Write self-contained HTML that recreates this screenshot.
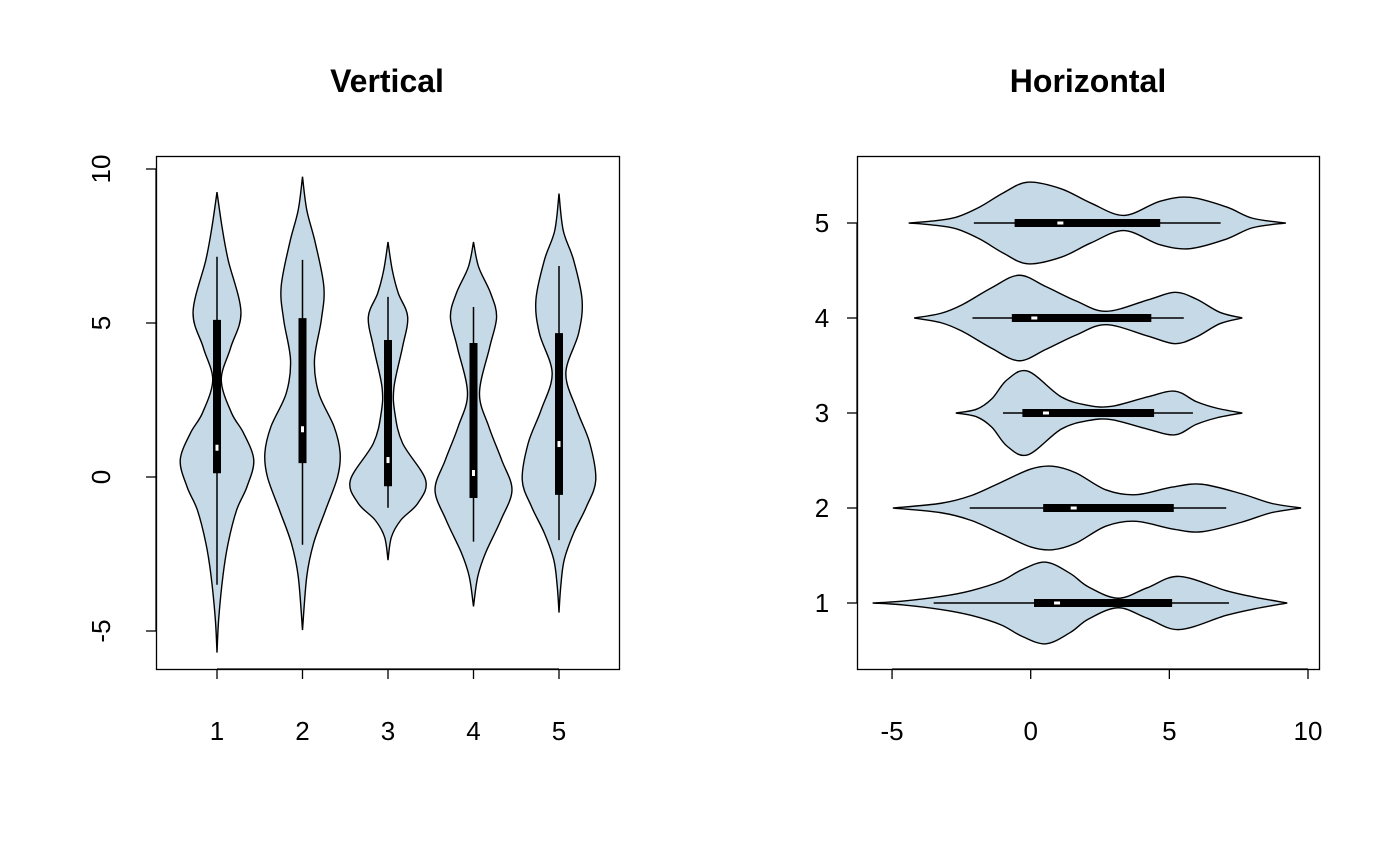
<!DOCTYPE html>
<html><head><meta charset="utf-8"><style>
html,body{margin:0;padding:0;background:#fff;}
svg{display:block;font-family:"Liberation Sans",Arial,sans-serif;}
</style></head><body>
<svg id="chart" width="1400" height="866" viewBox="0 0 1400 866" xmlns="http://www.w3.org/2000/svg">
<rect width="1400" height="866" fill="#fff"/>
<text x="387" y="92" text-anchor="middle" font-size="32" font-weight="bold">Vertical</text>
<text x="1088" y="92" text-anchor="middle" font-size="32" font-weight="bold">Horizontal</text>
<rect x="156.5" y="156.5" width="463" height="513" fill="none" stroke="#000" stroke-width="1.3"/>
<rect x="857.5" y="156.5" width="462" height="513" fill="none" stroke="#000" stroke-width="1.3"/>
<g id="vplot"></g>
<g id="hplot"></g>
</svg>
<script>
// values for each violin: data values and half-widths (category units)
const categories = [1,2,3,4,5];
const profVals = [
 [9.25,8.1,7.05,5.36,4.2,3.15,2.08,1.43,0.55,-0.32,-1.07,-2.15,-3.2,-4.6,-5.7],
 [9.75,8.67,7.6,6.17,5.1,3.8,2.72,1.63,0.78,0,-1.07,-2.15,-3.23,-4.97],
 [7.63,6.72,5.97,5.2,4.22,2.92,2.08,1.1,-0.1,-0.85,-1.4,-1.95,-2.7],
 [7.63,6.82,5.97,5.2,4.22,2.72,1.63,0.55,-0.42,-1.4,-2.47,-3.23,-4.2],
 [9.2,8.0,7.05,5.75,4.67,3.37,2.17,1.1,-0.1,-0.97,-1.83,-2.7,-3.57,-4.4]
];
const profHalf = [
 [0,0.06,0.13,0.28,0.16,0.05,0.17,0.31,0.43,0.35,0.23,0.13,0.07,0.02,0],
 [0,0.05,0.15,0.25,0.22,0.14,0.19,0.37,0.44,0.41,0.27,0.13,0.05,0],
 [0,0.05,0.12,0.23,0.17,0.07,0.08,0.17,0.44,0.35,0.15,0.04,0],
 [0,0.06,0.2,0.27,0.19,0.07,0.18,0.33,0.45,0.32,0.14,0.05,0],
 [0,0.05,0.17,0.27,0.23,0.08,0.21,0.36,0.43,0.32,0.17,0.06,0.02,0]
];
const q1 = [0.12,0.45,-0.3,-0.68,-0.58];
const q3 = [5.1,5.16,4.45,4.35,4.67];
const medians = [0.95,1.55,0.55,0.13,1.07];
const whiskLo = [-3.5,-2.2,-1.0,-2.1,-2.05];
const whiskHi = [7.15,7.05,5.85,5.52,6.85];
const valueTicks = [-5,0,5,10];

const NS="http://www.w3.org/2000/svg";
function mk(parent,tag,attrs){const e=document.createElementNS(NS,tag);for(const k in attrs)e.setAttribute(k,attrs[k]);parent.appendChild(e);return e;}
function smooth(pts){
  let d="M"+pts[0][0].toFixed(2)+","+pts[0][1].toFixed(2);
  for(let i=0;i<pts.length-1;i++){
    const p0=pts[Math.max(0,i-1)],p1=pts[i],p2=pts[i+1],p3=pts[Math.min(pts.length-1,i+2)];
    const c1=[p1[0]+(p2[0]-p0[0])/6,p1[1]+(p2[1]-p0[1])/6];
    const c2=[p2[0]-(p3[0]-p1[0])/6,p2[1]-(p3[1]-p1[1])/6];
    d+=" C"+c1[0].toFixed(2)+","+c1[1].toFixed(2)+" "+c2[0].toFixed(2)+","+c2[1].toFixed(2)+" "+p2[0].toFixed(2)+","+p2[1].toFixed(2);
  }
  return d;
}
function draw(g, horiz){
  const val = horiz ? (v=>1030.7+v*27.73) : (v=>477-v*30.8);
  const cat = horiz ? (c=>603-(c-1)*95) : (c=>217+(c-1)*85.5);
  const cs = horiz ? 95 : 85.5;
  const P = (v,c)=> horiz ? [val(v),c] : [c,val(v)];
  categories.forEach((c,i)=>{
    const cc=cat(c);
    const right=profVals[i].map((v,j)=>P(v,cc+profHalf[i][j]*cs*(horiz?-1:1)));
    const left=profVals[i].map((v,j)=>P(v,cc-profHalf[i][j]*cs*(horiz?-1:1))).reverse();
    const d=smooth(right)+" "+smooth(left).replace(/^M/,"L")+" Z";
    const path=mk(g,"path",{d:d,fill:"#c6d9e6",stroke:"#000","stroke-width":1.4});
    
    
    const a=P(whiskLo[i],cc),b=P(whiskHi[i],cc);
    const w=mk(g,"line",{x1:a[0],y1:a[1],x2:b[0],y2:b[1],stroke:"#000","stroke-width":1.5});
    
    
    const q=P(q1[i],cc),r=P(q3[i],cc);
    const bx=mk(g,"line",{x1:q[0],y1:q[1],x2:r[0],y2:r[1],stroke:"#000","stroke-width":8});
    
    
    const m=P(medians[i],cc);
    const md=mk(g,"rect",horiz?{x:m[0]-3,y:m[1]-1.5,width:6,height:3,fill:"#fff"}:{x:m[0]-1.5,y:m[1]-3,width:3,height:6,fill:"#fff"});
    
    
    if(horiz){
      const t=mk(g,"line",{x1:847,x2:857,y1:cc,y2:cc,stroke:"#000","stroke-width":1.3});
      
      
      const tx=mk(g,"text",{x:822,y:cc+9,"text-anchor":"middle","font-size":26});
      tx.textContent=c;
      
      
    } else {
      const t=mk(g,"line",{x1:cc,x2:cc,y1:669,y2:679,stroke:"#000","stroke-width":1.3});
      
      
      const tx=mk(g,"text",{x:cc,y:740,"text-anchor":"middle","font-size":26});
      tx.textContent=c;
      
      
    }
  });
  if(horiz){
    const l=mk(g,"line",{x1:857,x2:857,y1:cat(1),y2:cat(5),stroke:"#000","stroke-width":1.3});
    
    
  } else {
    const l=mk(g,"line",{x1:cat(1),x2:cat(5),y1:669,y2:669,stroke:"#000","stroke-width":1.3});
    
    
  }
  valueTicks.forEach(v=>{
    const p=val(v);
    if(horiz){
      const t=mk(g,"line",{x1:p,x2:p,y1:669,y2:679,stroke:"#000","stroke-width":1.3});
      
      
      const tx=mk(g,"text",{x:p,y:740,"text-anchor":"middle","font-size":26});
      tx.textContent=v;
      
      
    } else {
      const t=mk(g,"line",{x1:146,x2:156,y1:p,y2:p,stroke:"#000","stroke-width":1.3});
      
      
      const tx=mk(g,"text",{x:0,y:0,"text-anchor":"middle","font-size":26,transform:"translate(110,"+p+") rotate(-90)"});
      tx.textContent=v;
      
      
    }
  });
  if(horiz){
    const l=mk(g,"line",{x1:val(-5),x2:val(10),y1:669,y2:669,stroke:"#000","stroke-width":1.3});
    
    
  } else {
    const l=mk(g,"line",{x1:156,x2:156,y1:val(-5),y2:val(10),stroke:"#000","stroke-width":1.3});
    
    
  }
}
draw(document.getElementById('vplot'),false);
draw(document.getElementById('hplot'),true);
</script>
</body></html>
